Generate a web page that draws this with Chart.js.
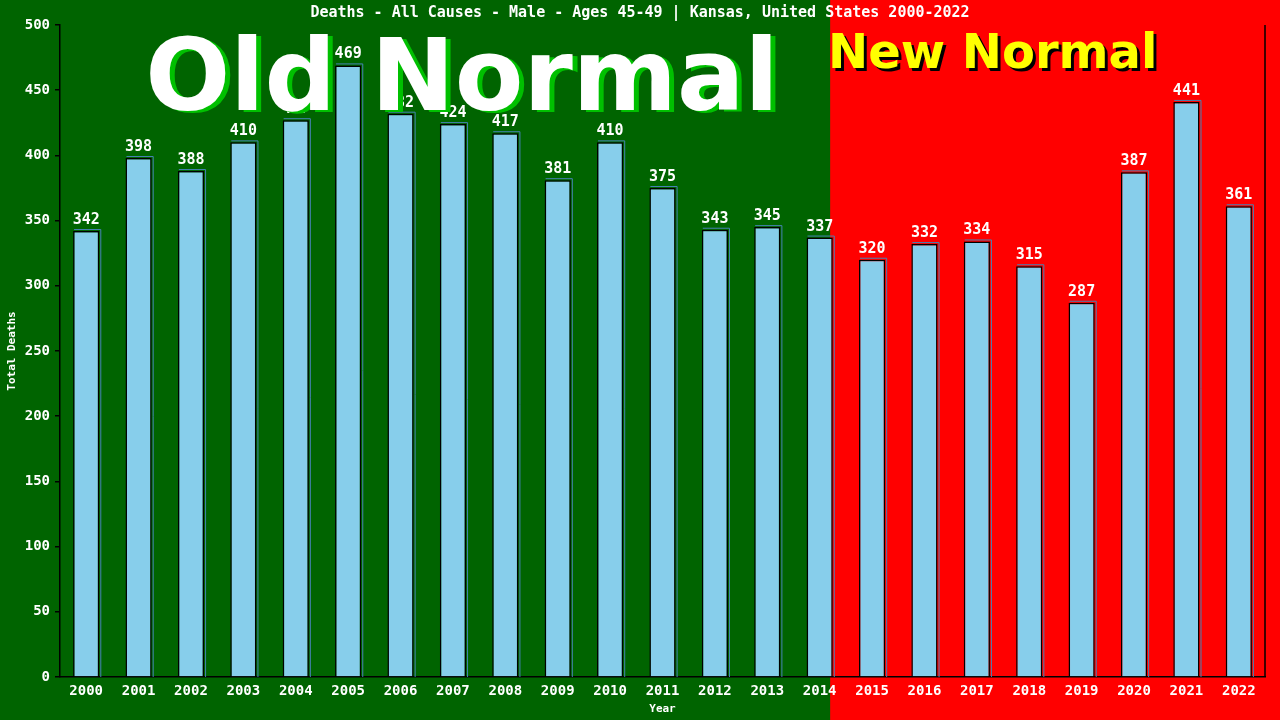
<!DOCTYPE html>
<html>
<head>
<meta charset="utf-8">
<script src="https://cdn.jsdelivr.net/npm/chart.js@4.4.0/dist/chart.umd.min.js"></script>
<style>
  html, body { margin: 0; padding: 0; background: #006400; }
  #wrap { width: 1280px; height: 720px; }
</style>
</head>
<body>
<div id="wrap"><canvas id="c" width="1280" height="720"></canvas></div>
<script>
const years = ["2000","2001","2002","2003","2004","2005","2006","2007","2008","2009","2010","2011","2012","2013","2014","2015","2016","2017","2018","2019","2020","2021","2022"];
const deaths = [342,398,388,410,427,469,432,424,417,381,410,375,343,345,337,320,332,334,315,287,387,441,361];
const yTicks = [0,50,100,150,200,250,300,350,400,450,500];
const titleText = "Deaths - All Causes - Male - Ages 45-49 | Kansas, United States 2000-2022";
const oldLabel = "Old Normal";
const newLabel = "New Normal";
const splitIndex = 14.2;

const MONO = '"DejaVu Sans Mono", monospace';

const bgPlugin = {
  id: 'bg',
  beforeDraw(chart) {
    const ctx = chart.ctx;
    const x = chart.scales.x.getPixelForValue(splitIndex);
    ctx.save();
    ctx.fillStyle = '#006400';
    ctx.fillRect(0, 0, chart.width, chart.height);
    ctx.fillStyle = '#ff0000';
    ctx.fillRect(x, 0, chart.width - x, chart.height);
    ctx.restore();
  }
};

const overlayPlugin = {
  id: 'overlay',
  afterDatasetsDraw(chart) {
    const ctx = chart.ctx;
    const meta = chart.getDatasetMeta(0);
    const area = chart.chartArea;
    ctx.save();
    // bar shadow
    meta.data.forEach((bar) => {
      const w = bar.width;
      ctx.strokeStyle = '#4682b4';
      ctx.lineWidth = 1;
      ctx.beginPath();
      ctx.moveTo(bar.x - w / 2 + 1, bar.y - 1.5);
      ctx.lineTo(bar.x + w / 2 + 1.5, bar.y - 1.5);
      ctx.lineTo(bar.x + w / 2 + 1.5, area.bottom);
      ctx.stroke();
    });
    // data labels
    ctx.fillStyle = '#ffffff';
    ctx.font = 'bold 15px ' + MONO;
    ctx.textAlign = 'center';
    ctx.textBaseline = 'alphabetic';
    meta.data.forEach((bar, i) => {
      ctx.fillText(String(deaths[i]), bar.x, bar.y - 7);
    });
    // right border
    ctx.strokeStyle = '#000';
    ctx.lineWidth = 1.5;
    ctx.beginPath();
    ctx.moveTo(area.right, area.top);
    ctx.lineTo(area.right, area.bottom);
    ctx.stroke();
    // title
    ctx.font = 'bold 15px ' + MONO;
    ctx.textBaseline = 'middle';
    ctx.fillText(titleText, 640, 13);
    // Old Normal
    ctx.textAlign = 'center';
    ctx.textBaseline = 'alphabetic';
    ctx.font = 'bold 100px "DejaVu Sans"';
    ctx.fillStyle = '#00c000';
    ctx.fillText(oldLabel, 467, 112);
    ctx.fillStyle = '#ffffff';
    ctx.fillText(oldLabel, 462, 110);
    // New Normal
    ctx.textAlign = 'left';
    ctx.font = 'bold 48px "DejaVu Sans"';
    ctx.fillStyle = '#000000';
    ctx.fillText(newLabel, 831, 71);
    ctx.fillStyle = '#ffff00';
    ctx.fillText(newLabel, 828, 68);
    ctx.restore();
  }
};

new Chart(document.getElementById('c'), {
  type: 'bar',
  data: {
    labels: years,
    datasets: [{
      data: deaths,
      backgroundColor: '#87ceeb',
      borderColor: '#000000',
      borderWidth: { top: 1.5, left: 1.5, right: 1.5, bottom: 0 },
      borderSkipped: 'bottom',
      barPercentage: 0.5,
      categoryPercentage: 1.0
    }]
  },
  options: {
    responsive: false,
    animation: false,
    devicePixelRatio: 1,
    layout: { padding: { top: 25, right: 15, left: 0, bottom: 0 } },
    plugins: { legend: { display: false }, tooltip: { enabled: false }, title: { display: false } },
    scales: {
      x: {
        offset: true,
        grid: { display: false, drawTicks: false },
        border: { display: true, color: '#000', width: 1.5 },
        ticks: { color: '#fff', font: { family: MONO, size: 14, weight: 'bold' }, padding: 6, maxRotation: 0, autoSkip: false },
        title: { display: true, text: 'Year', color: '#fff', font: { family: MONO, size: 11, weight: 'bold' }, padding: { top: 0, bottom: 4.5 } },
        afterFit(s) { s.height = 43; }
      },
      y: {
        min: 0, max: 500,
        afterBuildTicks(s) { s.ticks = yTicks.map(v => ({ value: v })); },
        grid: { drawOnChartArea: false, drawTicks: true, tickLength: 5, color: '#000', lineWidth: 1.5 },
        border: { display: true, color: '#000', width: 1.5 },
        ticks: { color: '#fff', font: { family: MONO, size: 14, weight: 'bold' }, padding: 5 },
        title: { display: true, text: 'Total Deaths', color: '#fff', font: { family: MONO, size: 11, weight: 'bold' }, padding: { top: 5.5, bottom: 0 } },
        afterFit(s) { s.width = 60; }
      }
    }
  },
  plugins: [bgPlugin, overlayPlugin]
});
</script>
</body>
</html>
